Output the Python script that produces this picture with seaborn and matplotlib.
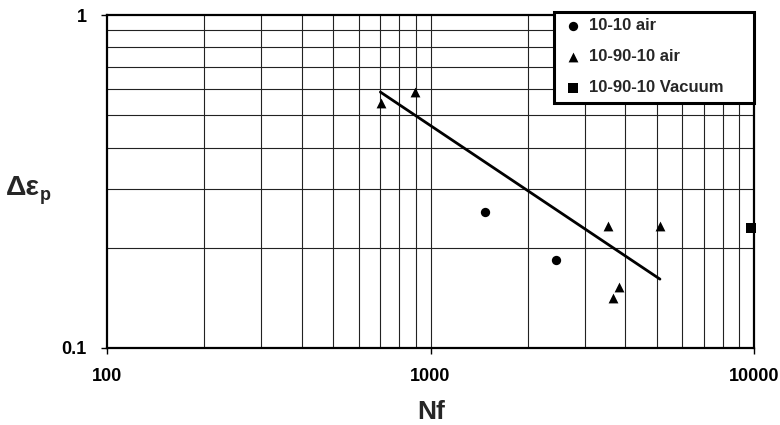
import matplotlib
matplotlib.use("Agg")
import matplotlib.pyplot as plt
import seaborn as sns
from matplotlib.patches import Rectangle
from matplotlib.ticker import FixedLocator, NullFormatter, FixedFormatter

sns.set_style("white")
plt.rcParams['font.family'] = ['Liberation Sans', 'DejaVu Sans']

# data
nf_1010_air = [1470, 2440]
de_1010_air = [0.256, 0.184]
nf_109010_air = [703, 896, 3540, 5120, 3830, 3665]
de_109010_air = [0.544, 0.587, 0.232, 0.232, 0.152, 0.141]
nf_109010_vac = [9800]
de_109010_vac = [0.229]
fit_nf = [700, 5120]
fit_de = [0.587, 0.161]

series_labels = ["10-10 air", "10-90-10 air", "10-90-10 Vacuum"]
x_ticks = [100, 1000, 10000]
x_ticklabels = ["100", "1000", "10000"]
y_ticks = [0.1, 1]
y_ticklabels = ["0.1", "1"]

fig = plt.figure(figsize=(7.8, 4.25), dpi=100)
ax = fig.add_axes([107/780, 1-348/425, (754-107)/780, (348-15)/425])

ax.set_xscale('log')
ax.set_yscale('log')
ax.set_xlim(100, 10000)
ax.set_ylim(0.1, 1)

# grid
minor_x = [m*10**e for e in (2, 3) for m in range(2, 10)]
minor_y = [m/10 for m in range(2, 10)]
for v in minor_x + [1000]:
    ax.axvline(v, color='#222222', lw=0.8, zorder=1)
for v in minor_y:
    ax.axhline(v, color='#222222', lw=0.8, zorder=1)

sns.lineplot(x=fit_nf, y=fit_de, ax=ax, color='black', lw=2, zorder=3)
sns.scatterplot(x=nf_1010_air, y=de_1010_air, ax=ax, marker='o', color='black',
                s=45, edgecolor='black', linewidth=0, label=series_labels[0], zorder=4)
sns.scatterplot(x=nf_109010_air, y=de_109010_air, ax=ax, marker='^', color='black',
                s=50, edgecolor='black', linewidth=0, label=series_labels[1], zorder=4)
sns.scatterplot(x=nf_109010_vac, y=de_109010_vac, ax=ax, marker='s', color='black',
                s=45, edgecolor='black', linewidth=0, label=series_labels[2], zorder=4, clip_on=False)

ax.xaxis.set_major_locator(FixedLocator(x_ticks))
ax.xaxis.set_major_formatter(FixedFormatter(x_ticklabels))
ax.xaxis.set_minor_locator(FixedLocator([]))
ax.xaxis.set_minor_formatter(NullFormatter())
ax.yaxis.set_major_locator(FixedLocator(y_ticks))
ax.yaxis.set_major_formatter(FixedFormatter(y_ticklabels))
ax.yaxis.set_minor_locator(FixedLocator([]))
ax.yaxis.set_minor_formatter(NullFormatter())

ax.tick_params(axis='both', which='major', direction='out', width=1,
               colors='black', labelsize=13, bottom=True, left=True)
ax.tick_params(axis='x', length=4, pad=10.5)
ax.tick_params(axis='y', length=4.5, pad=10)
for lab in ax.get_xticklabels() + ax.get_yticklabels():
    lab.set_fontweight('bold')

for sp in ax.spines.values():
    sp.set_visible(True)
    sp.set_color('black')
    sp.set_linewidth(1.6)

ax.set_xlabel("Nf", fontsize=19, fontweight='bold', va='top')
ax.xaxis.set_label_coords((431-107)/647, (348-400)/333)
ax.set_ylabel("")
fig.text(6/780, 1-188/425, "Δε", fontsize=20.5, fontweight='bold', va='center', ha='left')
fig.text(40/780, 1-196/425, "p", fontsize=13, fontweight='bold', va='center', ha='left')

# legend box
box = Rectangle(((554-107)/647, (348-103)/333), (754-554)/647, (103-12)/333,
                transform=ax.transAxes, facecolor='white', edgecolor='black',
                linewidth=2.2, zorder=9, clip_on=False)
ax.add_patch(box)
leg = ax.legend(loc='upper left', bbox_to_anchor=((566-107)/647, (348-18)/333),
                frameon=False, fontsize=12, handletextpad=0.55,
                borderpad=0, labelspacing=0.97, markerscale=1.0, handlelength=0.8,
                borderaxespad=0)
for t in leg.get_texts():
    t.set_fontweight('bold')
leg.set_zorder(10)

fig.savefig("out.png", dpi=100)
